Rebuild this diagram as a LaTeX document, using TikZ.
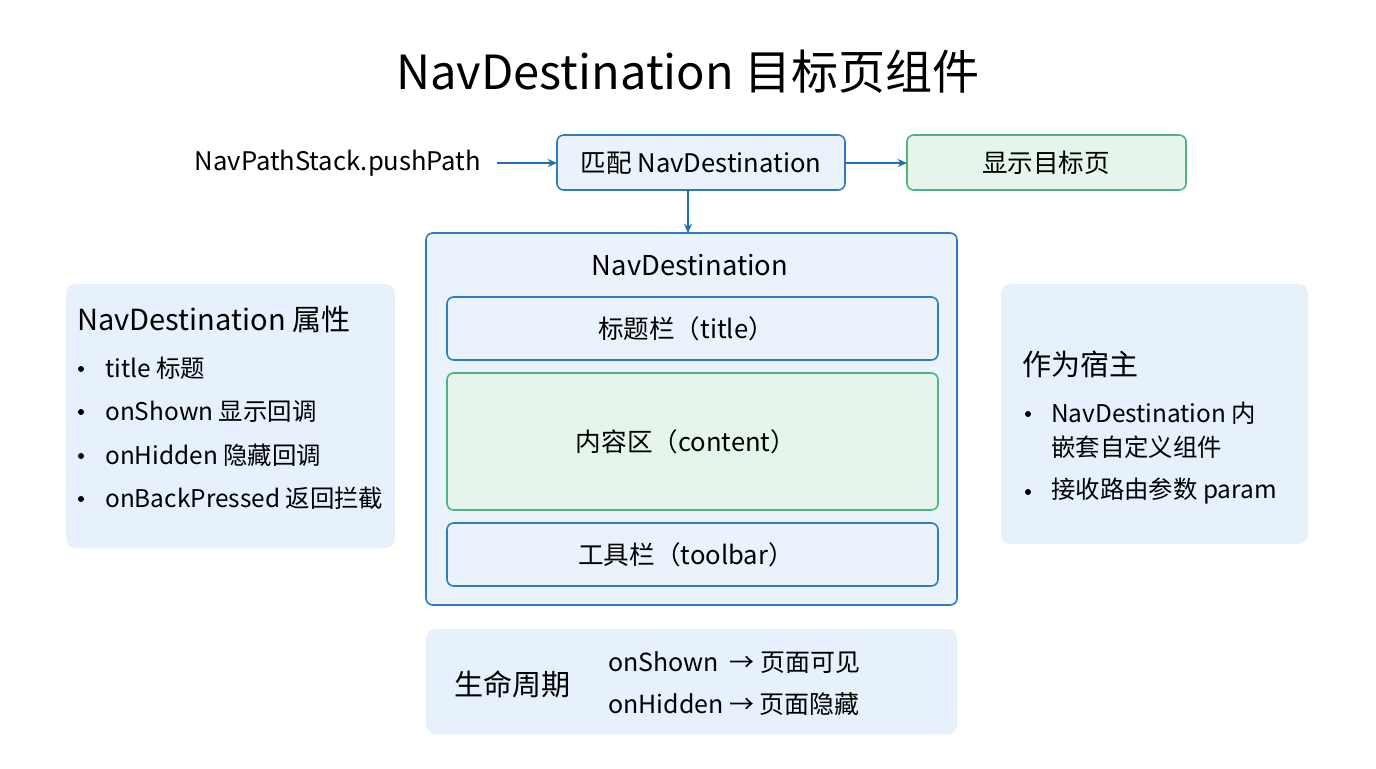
\documentclass[tikz,border=0pt]{standalone}
\usepackage{fontspec}
\setmainfont{Noto Sans CJK SC}
\usetikzlibrary{arrows.meta}
\definecolor{bb}{HTML}{2F7CC0}
\definecolor{bf}{HTML}{EAF3FB}
\definecolor{gb}{HTML}{4DB37F}
\definecolor{gf}{HTML}{E5F5EC}
\definecolor{pf}{HTML}{E6F1FB}
\definecolor{ar}{HTML}{1F6FB5}
\begin{document}
\begin{tikzpicture}[x=0.75pt,y=-0.75pt,
 bx/.style={draw=bb,fill=bf,line width=1.2pt,rounded corners=5pt},
 gx/.style={draw=gb,fill=gf,line width=1.2pt,rounded corners=5pt},
 px/.style={fill=pf,rounded corners=7pt},
 t/.style={font=\fontsize{19.2}{23}\selectfont,inner sep=0},
 s/.style={font=\fontsize{18.3}{22}\selectfont,inner sep=0,anchor=west},
 bu/.style={circle,fill=black,inner sep=0,minimum size=4.5pt},
 h/.style={font=\fontsize{21.8}{26}\selectfont,inner sep=0,anchor=west},
 ar/.style={-{Stealth[length=7pt,width=6pt]},draw=ar,line width=1.2pt}]
\useasboundingbox (0,0) rectangle (1376,768);
\node[inner sep=0,font=\fontsize{35.3}{42}\selectfont] (title) at (688,72) {NavDestination 目标页组件};
\node[t] (push) at (338,163) {NavPathStack.pushPath};
\draw[bx] (557,135) rectangle (845,190); \node[t] (match) at (701,163) {匹配 NavDestination};
\draw[gx] (907,135) rectangle (1186,190); \node[t] (show) at (1046,163) {显示目标页};
\coordinate (m1) at (845,163); \coordinate (s1) at (907,163);
\coordinate (p1) at (497,163); \coordinate (b1) at (557,163);
\draw[ar] (p1) -- (b1); \draw[ar] (m1) -- (s1);
\coordinate (md) at (688,190); \coordinate (ct) at (688,233);
\draw[ar] (md) -- (ct);
\draw[bx] (426,233) rectangle (957,605);
\node[t,font=\fontsize{20.5}{24}\selectfont] (nd) at (690,265) {NavDestination};
\draw[bx] (447,297) rectangle (938,360); \node[t] (tb) at (686,329) {标题栏（title）};
\draw[gx] (447,373) rectangle (938,510); \node[t] (cb) at (686,442) {内容区（content）};
\draw[bx] (447,523) rectangle (938,586); \node[t] (ob) at (686,555) {工具栏（toolbar）};
\fill[px] (66,284) rectangle (395,548);
\node[h] (lh) at (77,319) {NavDestination 属性};
\foreach \y/\tx [count=\i] in {368/title 标题,411/onShown 显示回调,455/onHidden 隐藏回调,498/onBackPressed 返回拦截}{
 \node[bu] (lb\i) at (81,\y+1) {}; \node[s] (l\i) at (105,\y) {\tx};}
\fill[px] (1001,284) rectangle (1308,544);
\node[h] (rh) at (1022,364) {作为宿主};
\node[bu] (rb1) at (1028,414) {}; \node[s] (r1) at (1051,413) {NavDestination 内};
\node[s] (r1b) at (1051,447) {嵌套自定义组件};
\node[bu] (rb2) at (1028,492) {}; \node[s] (r2) at (1051,491) {接收路由参数 param};
\fill[px] (426,629) rectangle (957,734);
\node[h] (lc) at (454,684) {生命周期};
\node[s,font=\fontsize{18.7}{22}\selectfont] (lc1) at (608,663) {onShown\ \ → 页面可见};
\node[s,font=\fontsize{18.7}{22}\selectfont] (lc2) at (608,704) {onHidden → 页面隐藏};
\end{tikzpicture}
\end{document}
